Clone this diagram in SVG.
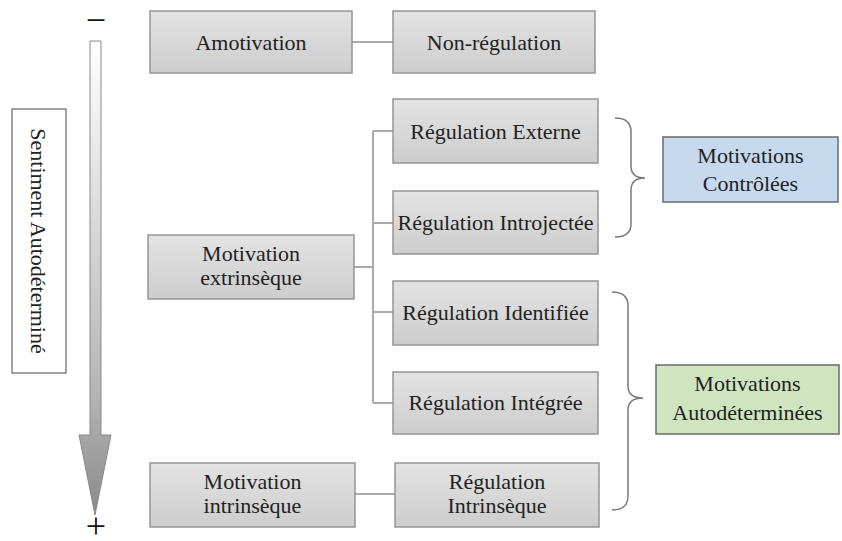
<svg xmlns="http://www.w3.org/2000/svg" width="842" height="541" viewBox="0 0 842 541" font-family="Liberation Serif, Times New Roman, serif">
<defs>
<linearGradient id="boxg" x1="0" y1="0" x2="0" y2="1">
<stop offset="0" stop-color="#e3e3e3"/>
<stop offset="1" stop-color="#cdcdcd"/>
</linearGradient>
<linearGradient id="arrowg" gradientUnits="userSpaceOnUse" x1="0" y1="41" x2="0" y2="515">
<stop offset="0" stop-color="#ffffff"/>
<stop offset="0.75" stop-color="#b4b4b4"/>
<stop offset="1" stop-color="#8a8a8a"/>
</linearGradient>
</defs>
<style>
.box{fill:url(#boxg);stroke:#959595;stroke-width:1.5}
.t{font-size:22px;fill:#222;text-anchor:middle}
.con{fill:none;stroke:#ababab;stroke-width:2}
.brace{fill:none;stroke:#7a7a7a;stroke-width:1.5}
.sign{font-size:36px;fill:#111;text-anchor:middle}
</style>
<rect width="842" height="541" fill="#ffffff"/>

<g id="axis">
<path d="M90,41 L101,41 L101,435 L111,435 L95,515 L79,435 L90,435 Z" fill="url(#arrowg)" stroke="#8a8a8a" stroke-width="1"/>
<text class="sign" font-family="Liberation Serif, serif" x="96" y="32">−</text>
<text class="sign" font-family="Liberation Serif, serif" x="96" y="538">+</text>
</g>

<g id="sentiment">
<rect x="12" y="109" width="54" height="264" fill="#ffffff" stroke="#444" stroke-width="1"/>
<text class="t" font-family="Liberation Serif, serif" transform="translate(39,241) rotate(90)" x="0" y="8">Sentiment Autodéterminé</text>
</g>

<g id="connectors">
<line class="con" x1="352" y1="42" x2="393" y2="42"/>
<line class="con" x1="354" y1="267" x2="373" y2="267"/>
<line class="con" x1="373" y1="131" x2="373" y2="403"/>
<line class="con" x1="373" y1="131" x2="393" y2="131"/>
<line class="con" x1="373" y1="223" x2="393" y2="223"/>
<line class="con" x1="373" y1="312" x2="393" y2="312"/>
<line class="con" x1="373" y1="403" x2="393" y2="403"/>
<line class="con" x1="355" y1="494" x2="395" y2="494"/>
</g>

<g id="amotivation">
<rect class="box" x="150" y="11" width="202" height="62"/>
<text class="t" font-family="Liberation Serif, serif" x="251" y="50">Amotivation</text>
</g>
<g id="non-regulation">
<rect class="box" x="393" y="11" width="202" height="62"/>
<text class="t" font-family="Liberation Serif, serif" x="494" y="50">Non-régulation</text>
</g>
<g id="regulation-externe">
<rect class="box" x="393" y="99" width="205" height="64"/>
<text class="t" font-family="Liberation Serif, serif" x="495.5" y="139">Régulation Externe</text>
</g>
<g id="regulation-introjectee">
<rect class="box" x="393" y="191" width="205" height="63"/>
<text class="t" font-family="Liberation Serif, serif" x="495.5" y="230">Régulation Introjectée</text>
</g>
<g id="motivation-extrinseque">
<rect class="box" x="148" y="235" width="206" height="64"/>
<text class="t" font-family="Liberation Serif, serif" x="251" y="261">Motivation</text>
<text class="t" font-family="Liberation Serif, serif" x="251" y="285">extrinsèque</text>
</g>
<g id="regulation-identifiee">
<rect class="box" x="393" y="281" width="205" height="64"/>
<text class="t" font-family="Liberation Serif, serif" x="495.5" y="320">Régulation Identifiée</text>
</g>
<g id="regulation-integree">
<rect class="box" x="393" y="372" width="205" height="62"/>
<text class="t" font-family="Liberation Serif, serif" x="495.5" y="410">Régulation Intégrée</text>
</g>
<g id="motivation-intrinseque">
<rect class="box" x="150" y="463" width="205" height="64"/>
<text class="t" font-family="Liberation Serif, serif" x="252.5" y="489">Motivation</text>
<text class="t" font-family="Liberation Serif, serif" x="252.5" y="513">intrinsèque</text>
</g>
<g id="regulation-intrinseque">
<rect class="box" x="395" y="463" width="204" height="64"/>
<text class="t" font-family="Liberation Serif, serif" x="497" y="489">Régulation</text>
<text class="t" font-family="Liberation Serif, serif" x="497" y="513">Intrinsèque</text>
</g>

<g id="braces">
<path class="brace" d="M615,118 Q631,118 631,132 L631,166 Q631,178 645,178 Q631,178 631,190 L631,224 Q631,237 615,237"/>
<path class="brace" d="M612,292 Q628,292 628,306 L628,386 Q628,398 643,398 Q628,398 628,410 L628,496 Q628,510 612,510"/>
</g>

<g id="motivations-controlees">
<rect x="663" y="137" width="175" height="65" fill="#c6d9ef" stroke="#6b6b6b" stroke-width="1.5"/>
<text class="t" font-family="Liberation Serif, serif" x="750.5" y="163">Motivations</text>
<text class="t" font-family="Liberation Serif, serif" x="750.5" y="191">Contrôlées</text>
</g>
<g id="motivations-autodeterminees">
<rect x="656" y="365" width="183" height="69" fill="#cfe5bf" stroke="#6b6b6b" stroke-width="1.5"/>
<text class="t" font-family="Liberation Serif, serif" x="747.5" y="391">Motivations</text>
<text class="t" font-family="Liberation Serif, serif" x="747.5" y="420">Autodéterminées</text>
</g>
</svg>
